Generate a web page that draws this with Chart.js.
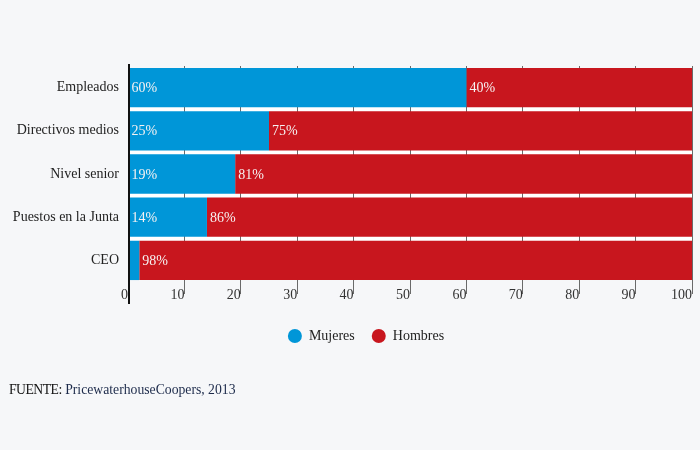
<!DOCTYPE html>
<html>
<head>
<meta charset="utf-8">
<script src="https://cdn.jsdelivr.net/npm/chart.js@4"></script>
<style>
  html, body { margin: 0; padding: 0; background: #f6f7f9; }
  #wrap { position: relative; width: 700px; height: 450px; }
  #source { position: absolute; left: 9px; top: 382px; font: 13.7px 'Liberation Serif', serif; color: #111; }
  #source b { font-weight: normal; letter-spacing: -0.5px; }
  #source span { color: #1c2a4a; }
</style>
</head>
<body>
<div id="wrap">
  <canvas id="chart" width="700" height="450"></canvas>
  <div id="source"><b>FUENTE:</b> <span>PricewaterhouseCoopers, 2013</span></div>
</div>
<script>
const categories = ['Empleados', 'Directivos medios', 'Nivel senior', 'Puestos en la Junta', 'CEO']
const mujeres = [60, 25, 19, 14, 2]
const hombres = [40, 75, 81, 86, 98]
const seriesNames = ['Mujeres', 'Hombres']

const serif = "'Liberation Serif', 'Times New Roman', serif"

// white band behind the bars, grid lines go on top of it
const bandPlugin = {
  id: 'band',
  afterLayout(chart) {
    // the legend sits a bit right of the canvas centre in the original
    chart.legend.left += 40
  },
  beforeDraw(chart) {
    const { ctx, chartArea } = chart
    ctx.save()
    ctx.fillStyle = '#ffffff'
    ctx.fillRect(chartArea.left, chartArea.top + 2, chartArea.right - chartArea.left, chartArea.bottom - chartArea.top - 4)
    ctx.restore()
  },
}

// percentage labels at the start of each segment + the black left axis
const labelPlugin = {
  id: 'segLabels',
  afterDatasetsDraw(chart) {
    const { ctx } = chart
    ctx.save()
    ctx.font = '14px ' + serif
    ctx.fillStyle = '#f6f2f2'
    ctx.textAlign = 'left'
    ctx.textBaseline = 'middle'
    chart.data.datasets.forEach((ds, i) => {
      chart.getDatasetMeta(i).data.forEach((el, j) => {
        const v = ds.data[j]
        if (v < 5) return
        ctx.fillText(v + '%', Math.min(el.x, el.base) + 3, el.y + 1)
      })
    })
    ctx.restore()
  },
  afterDraw(chart) {
    const { ctx, chartArea } = chart
    ctx.save()
    ctx.strokeStyle = '#111'
    ctx.lineWidth = 2
    ctx.beginPath()
    ctx.moveTo(chartArea.left + 1, chartArea.top - 2)
    ctx.lineTo(chartArea.left + 1, chartArea.bottom + 22)
    ctx.stroke()
    ctx.restore()
  },
}

new Chart(document.getElementById('chart'), {
  type: 'bar',
  data: {
    labels: categories,
    datasets: [
      { label: seriesNames[0], data: mujeres, backgroundColor: '#0096d8', borderWidth: 0 },
      { label: seriesNames[1], data: hombres, backgroundColor: '#c8161e', borderWidth: 0 },
    ],
  },
  options: {
    indexAxis: 'y',
    responsive: false,
    animation: false,
    layout: { padding: { top: 66, right: 8, bottom: 97, left: 0 } },
    datasets: { bar: { barPercentage: 1, categoryPercentage: 0.91 } },
    scales: {
      x: {
        stacked: true,
        min: 0,
        max: 100,
        border: { display: false },
        grid: {
          color: (c) => (c.index === 0 ? 'rgba(0,0,0,0)' : '#6a6a6a'),
          lineWidth: 1,
          tickLength: 12,
        },
        ticks: {
          stepSize: 10,
          align: 'end',
          padding: -7,
          maxRotation: 0,
          autoSkip: false,
          color: '#333',
          font: { family: serif, size: 14 },
        },
        afterFit(scale) { scale.height = 30 },
      },
      y: {
        stacked: true,
        border: { display: false },
        grid: { display: false, drawTicks: false },
        ticks: { padding: 9, color: '#222', font: { family: serif, size: 14 } },
        afterFit(scale) { scale.width = 128 },
      },
    },
    plugins: {
      legend: {
        position: 'bottom',
        labels: {
          usePointStyle: true,
          pointStyle: 'circle',
          pointStyleWidth: 14,
          boxHeight: 10,
          padding: 17,
          color: '#222',
          font: { family: serif, size: 14 },
        },
      },
      tooltip: { enabled: false },
    },
  },
  plugins: [bandPlugin, labelPlugin],
})
</script>
</body>
</html>
